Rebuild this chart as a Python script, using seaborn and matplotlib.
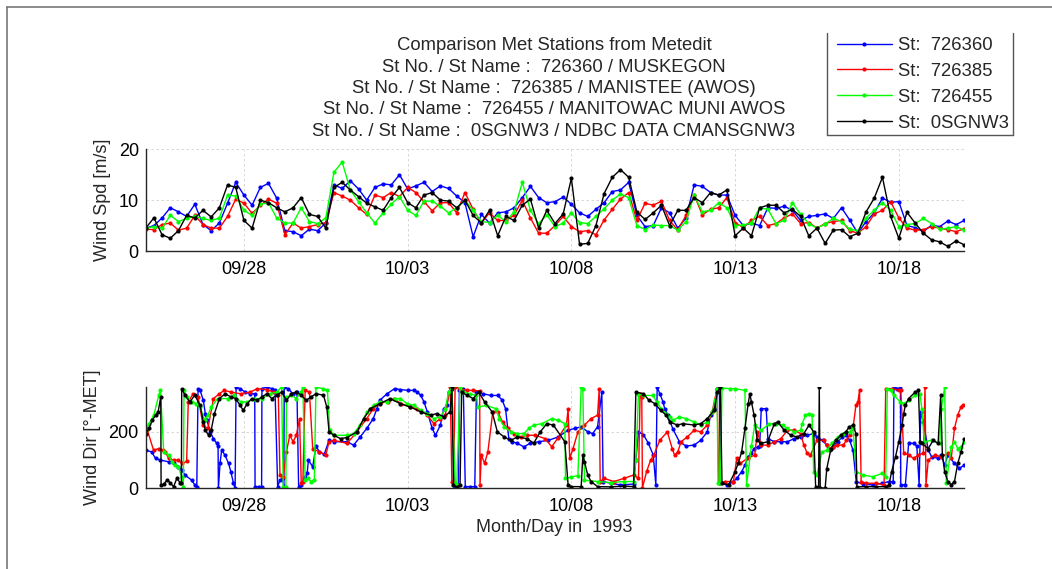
import numpy as np
import pandas as pd
import matplotlib
matplotlib.use("Agg")
import matplotlib.pyplot as plt
import matplotlib.dates as mdates
from matplotlib.lines import Line2D
import seaborn as sns

# ---------------- data ----------------
stations = ["726360", "726385", "726455", "0SGNW3"]
colors = ["#0000ff", "#ff0000", "#00ff00", "#000000"]
start = "1993-09-25 00:00"
tick_dates = ["1993-09-28", "1993-10-03", "1993-10-08", "1993-10-13", "1993-10-18"]

# wind speed [m/s], 6-hourly from 1993-09-25 00:00
spd_726360 = [4.5, 5, 6.5, 8.5, 7.7, 6.8, 9.2, 5.2, 4, 5.5, 9.4, 13.5, 11, 9, 12.5, 13.3, 10.4, 4, 3.8, 3, 4.3,
              4, 5.5, 13, 12.3, 13.8, 12.2, 10, 12.5, 13.2, 13, 15, 12.2, 12.8, 13.5, 11.7, 12.8, 12.3, 10.8, 9.5, 2.8,
              7.2, 5.5, 7.5, 7.7, 8.5, 10.5, 12.7, 10.5, 9.5, 9.7, 10.6, 9.2, 7.5, 6.8, 8.2, 9.5, 11.7, 12, 13.5, 7,
              4.8, 5, 8.5, 7.5, 4.5, 6.5, 13, 12.7, 11.5, 11, 11, 7, 5, 5.5, 5, 8.5, 8.4, 8.8, 8, 6,
              6.8, 7, 7.3, 6.4, 8.5, 6.1, 3.5, 5.8, 7.5, 10.4, 9.6, 9.7, 5, 4.6, 3.8, 5.1, 4.8, 5.9, 5.2, 6]
spd_726385 = [4.3, 4.2, 5.2, 5.5, 4.1, 4.5, 7, 5.2, 4.5, 4.5, 6.8, 10.2, 9.4, 7.4, 9, 10.2, 9.4, 3.2, 5.5, 4.5, 4.8,
              5.2, 5.6, 11.5, 10.8, 10, 8.5, 7.2, 11, 10.5, 11.5, 10.7, 12.5, 11.5, 9.7, 7.9, 9.5, 9.5, 7.5, 11.5, 8.2,
              5.5, 7.5, 6, 6, 7, 10, 6.5, 3.5, 3.5, 5, 6.8, 4.8, 3.8, 4, 3.2, 6.1, 8.2, 10.2, 11.5, 6,
              9.4, 9, 9.8, 6, 4.1, 7, 11, 7.1, 8.2, 8.5, 10.5, 5.6, 4.6, 6, 6.8, 5, 5.4, 6.5, 7.3, 5.4,
              5.6, 4.5, 5.4, 5.8, 6, 4, 3.5, 4.8, 7.3, 8, 9.7, 6.5, 4.5, 4.1, 4.2, 4.8, 4.5, 4.2, 3.8, 4.4]
spd_726455 = [4.5, 4.8, 4.5, 7, 5.8, 6.4, 6.8, 6.4, 6, 6.5, 11, 10.8, 8, 7, 9.2, 9.5, 6.5, 5.5, 5.5, 8.5, 5.8,
              5.4, 6.5, 15.5, 17.5, 12, 9.7, 7.5, 5.5, 7.5, 9.2, 10.7, 8, 7, 9.8, 9.8, 8.8, 7.5, 8.5, 10, 8,
              5.8, 5.6, 7, 5.8, 7.7, 13.5, 8, 5.4, 7.1, 4.8, 5.5, 7.5, 5.6, 5.4, 6.8, 8.3, 10, 11.2, 10.5, 5,
              4.2, 5.1, 5, 5, 4.1, 5.8, 11, 7.7, 8, 9.5, 8.5, 5, 5.1, 5.5, 8.5, 8.2, 5.4, 6, 9.5, 7.2,
              5.4, 4.5, 5.3, 6.4, 5.8, 4.3, 4, 6.5, 8, 9.5, 8, 4.8, 5.2, 5.4, 6.4, 5.4, 4.3, 4.5, 4.8, 4.1]
spd_0SGNW3 = [4.5, 6.5, 3.2, 2.5, 4, 7, 6.5, 8, 6.7, 8.5, 13, 12.5, 6, 4.5, 10, 9.5, 8.5, 7.7, 8.5, 10.5, 7.2,
              6.8, 4.5, 12.5, 13.5, 12, 10.7, 9.4, 8.7, 8, 10.5, 12.5, 9.5, 8.5, 11, 11.5, 10, 9.8, 8.5, 10, 7,
              5.5, 8, 3, 6.8, 6, 9, 10.2, 4.5, 8, 5.4, 7.3, 14.3, 1.3, 1.5, 5, 11.3, 14.5, 16, 14.5, 7.7,
              6.2, 7.5, 9, 5, 8, 8, 10.5, 9.5, 11.5, 11, 12, 3, 4.5, 3, 8.5, 9, 9, 7.5, 8.2, 6.8,
              3, 4.5, 1.5, 4.1, 4.2, 2.8, 3.5, 7.7, 10.4, 14.5, 6.8, 2.5, 7.6, 5.5, 3.5, 2.2, 1.8, 0.9, 2, 1.2]

# wind direction [deg], day offset from 1993-09-25 00:00
dir_726360_day = [0, 0.18, 0.3, 0.44, 0.7, 0.85, 1.0, 1.1, 1.2, 1.4, 1.5, 1.56, 1.6, 1.66, 1.76, 1.82, 1.87, 1.97,
                  2.07, 2.17, 2.21, 2.22, 2.27, 2.32, 2.42, 2.53, 2.6, 2.68, 2.73, 2.76, 2.88, 3.04, 3.2, 3.33, 3.34,
                  3.45, 3.54, 3.55, 3.7, 3.85, 3.95, 4.03, 4.1, 4.18, 4.22, 4.23, 4.35, 4.5, 4.62, 4.67, 4.75, 4.87,
                  4.93, 4.97, 5.1, 5.2, 5.3, 5.45, 5.6, 5.75, 6.15, 6.35, 6.55, 6.75, 6.95, 7.06, 7.15, 7.37, 7.6,
                  7.78, 8.0, 8.2, 8.3, 8.4, 8.5, 8.6, 8.75, 8.85, 9.0, 9.1, 9.2, 9.25, 9.35, 9.44, 9.55, 9.58, 9.7,
                  9.76, 9.9, 10.05, 10.1, 10.3, 10.55, 10.75, 10.89, 10.99, 11.09, 11.2, 11.35, 11.55, 11.75, 12.0,
                  12.3, 12.6, 12.9, 13.1, 13.3, 13.5, 13.65, 13.8, 13.93, 13.97, 14.2, 14.5, 14.9, 14.97, 15.05,
                  15.2, 15.35, 15.5, 15.58, 15.62, 15.7, 15.8, 15.85, 15.95, 16.1, 16.3, 16.5, 16.75, 16.95, 17.15,
                  17.25, 17.4, 17.45, 17.52, 17.55, 17.75, 17.95, 18.05, 18.2, 18.3, 18.4, 18.5, 18.58, 18.7, 18.75,
                  18.8, 18.95, 19.0, 19.2, 19.4, 19.6, 19.8, 20.0, 20.2, 20.4, 20.5, 20.67, 20.8, 20.9, 20.98,
                  21.13, 21.28, 21.4, 21.5, 21.6, 21.7, 21.9, 22.2, 22.5, 22.7, 22.83, 22.85, 22.95, 23.05, 23.06,
                  23.2, 23.3, 23.45, 23.55, 23.62, 23.67, 23.75, 23.9, 24.0, 24.2, 24.3, 24.4, 24.5, 24.7, 24.85,
                  25.0]
dir_726360_deg = [135, 129, 106, 100, 94, 88, 76, 65, 47, 29, 12, 6, 353, 347, 312, 265, 241, 200,
                  176, 159, 150, 0, 88, 135, 118, 88, 59, 18, 0, 359, 353, 341, 335, 335, 6,
                  6, 6, 353, 359, 353, 347, 6, 29, 35, 6, 359, 353, 335, 341, 6, 12, 41,
                  53, 100, 76, 150, 130, 120, 170, 165, 165, 153, 182, 212, 247, 282, 312, 335, 353,
                  350, 347, 347, 341, 329, 306, 271, 212, 188, 224, 282, 294, 341, 353, 6, 10, 347, 353,
                  6, 6, 6, 341, 335, 329, 329, 312, 282, 176, 165, 159, 147, 160, 165,
                  170, 182, 206, 212, 218, 200, 194, 218, 340, 24, 18, 12, 15, 100, 200,
                  190, 160, 118, 12, 359, 335, 306, 282, 259, 210, 165, 150, 153, 170, 200,
                  259, 282, 353, 355, 18, 12, 24, 35, 59, 82, 112, 124, 141, 147, 150,
                  282, 282, 176, 165, 165, 165, 176, 182, 188, 194, 182, 170, 153, 135, 147,
                  165, 182, 188, 170, 135, 24, 15, 12, 18, 24, 24, 359, 353, 355, 12,
                  12, 160, 159, 150, 12, 271, 235, 135, 112, 106, 118, 82, 118, 88, 71,
                  82]

dir_726385_day = [0, 0.05, 0.24, 0.4, 0.54, 0.6, 0.7, 0.85, 1.0, 1.1, 1.25, 1.3, 1.45, 1.6, 1.75, 1.9, 2.07, 2.25,
                  2.4, 2.6, 2.9, 3.2, 3.4, 3.7, 3.9, 4.05, 4.1, 4.2, 4.3, 4.4, 4.5, 4.6, 4.7, 4.75, 4.8, 4.87,
                  5.0, 5.1, 5.3, 5.5, 5.6, 5.75, 6.15, 6.45, 6.75, 6.95, 7.2, 7.4, 7.57, 7.8, 8.08, 8.3, 8.6,
                  8.8, 9.0, 9.15, 9.3, 9.35, 9.4, 9.45, 9.6, 9.8, 10.0, 10.2, 10.21, 10.25, 10.35, 10.45, 10.6,
                  10.75, 10.9, 11.05, 11.25, 11.45, 11.65, 11.9, 12.2, 12.4, 12.6, 12.85, 12.9, 12.95, 13.05,
                  13.2, 13.4, 13.6, 13.8, 13.85, 13.88, 14.0, 14.3, 14.6, 14.9, 15.05, 15.1, 15.15, 15.17, 15.3,
                  15.42, 15.52, 15.7, 15.93, 16.08, 16.15, 16.25, 16.35, 16.54, 16.75, 16.95, 17.15, 17.3, 17.45,
                  17.5, 17.7, 17.95, 18.05, 18.15, 18.38, 18.6, 18.68, 18.8, 19.0, 19.2, 19.4, 19.6, 19.8, 20.0,
                  20.1, 20.2, 20.3, 20.5, 20.7, 20.8, 20.9, 21.0, 21.1, 21.3, 21.4, 21.5, 21.6, 21.69, 21.75,
                  21.8, 21.85, 22.0, 22.3, 22.55, 22.6, 22.8, 23.0, 23.06, 23.15, 23.3, 23.45, 23.6, 23.75, 23.8,
                  23.83, 23.9, 24.1, 24.3, 24.5, 24.6, 24.7, 24.8, 24.9, 24.95]
dir_726385_deg = [212, 206, 135, 141, 135, 129, 106, 100, 100, 88, 95, 306, 335, 324, 224, 212, 318, 335,
                  347, 341, 335, 341, 353, 350, 341, 329, 47, 40, 130, 188, 165, 188, 247, 18, 24, 347,
                  341, 141, 129, 118, 165, 170, 159, 200, 247, 282, 306, 306, 318, 300, 288, 282, 259,
                  229, 247, 259, 359, 24, 24, 359, 353, 347, 347, 345, 12, 118, 88, 129, 271,
                  271, 235, 212, 194, 182, 188, 188, 176, 147, 180, 224, 282, 106, 140,
                  200, 224, 247, 259, 353, 24, 35, 24, 35, 47, 35, 335, 324, 2, 60,
                  100, 118, 170, 200, 141, 118, 129, 165, 182, 206, 200, 224, 271, 353,
                  18, 24, 24, 106, 88, 106, 118, 200, 153, 153, 165, 176, 206, 206, 194,
                  153, 124, 118, 170, 170, 153, 141, 147, 153, 153, 170, 188, 212, 294, 306,
                  347, 24, 18, 18, 12, 353, 353, 347, 347, 124, 118, 106, 118, 124, 359,
                  12, 100, 118, 112, 124, 106, 212, 260, 288, 294]

dir_726455_day = [0, 0.1, 0.25, 0.4, 0.45, 0.55, 0.7, 0.8, 0.9, 1.0, 1.1, 1.15, 1.17, 1.25, 1.4, 1.55, 1.66, 1.8,
                  1.9, 2.0, 2.2, 2.5, 2.7, 2.9, 3.1, 3.3, 3.55, 3.8, 4.0, 4.15, 4.2, 4.28, 4.3, 4.45, 4.6, 4.75,
                  4.8, 4.87, 4.95, 5.05, 5.15, 5.2, 5.4, 5.55, 5.62, 5.75, 6.15, 6.35, 6.55, 6.76, 6.96, 7.15,
                  7.37, 7.6, 7.78, 7.98, 8.2, 8.4, 8.6, 8.8, 9.0, 9.15, 9.25, 9.35, 9.45, 9.5, 9.6, 9.7, 9.9,
                  10.1, 10.15, 10.4, 10.7, 10.8, 10.95, 11.15, 11.35, 11.55, 11.7, 11.85, 12.1, 12.4, 12.6, 12.8,
                  12.82, 13.0, 13.2, 13.3, 13.35, 13.4, 13.8, 14.2, 14.6, 14.9, 14.97, 15.05, 15.2, 15.5, 15.6,
                  15.75, 15.9, 16.0, 16.1, 16.3, 16.5, 16.75, 16.95, 17.15, 17.3, 17.4, 17.45, 17.48, 17.55,
                  17.6, 17.85, 18.0, 18.3, 18.35, 18.5, 18.6, 18.8, 19.05, 19.25, 19.45, 19.6, 19.8, 20.0, 20.05,
                  20.15, 20.25, 20.35, 20.4, 20.5, 20.65, 20.8, 20.95, 21.15, 21.3, 21.5, 21.6, 21.7, 21.9, 22.2,
                  22.5, 22.6, 22.65, 22.75, 22.85, 23.05, 23.15, 23.3, 23.5, 23.65, 23.7, 23.78, 24.0, 24.25,
                  24.3, 24.4, 24.45, 24.6, 24.7, 24.8, 24.9, 25.0]
dir_726455_deg = [206, 229, 260, 330, 349, 130, 118, 94, 82, 76, 40, 5, 347, 324, 306, 300, 288, 241,
                  259, 288, 318, 318, 330, 306, 306, 318, 318, 335, 341, 359, 5, 5, 324, 330, 318, 341,
                  359, 29, 35, 24, 30, 359, 353, 347, 206, 188, 188, 194, 224, 271, 294, 306,
                  306, 318, 318, 300, 294, 276, 265, 247, 253, 282, 341, 359, 20, 12, 359, 341, 335,
                  329, 288, 294, 282, 247, 218, 200, 194, 194, 212, 224, 229, 247, 241, 229,
                  35, 40, 45, 359, 353, 29, 24, 20, 24, 24, 100, 335, 329, 329, 306,
                  282, 265, 253, 241, 253, 247, 235, 224, 235, 271, 312, 353, 18, 18,
                  355, 353, 353, 347, 12, 150, 224, 206, 229, 229, 224, 212, 200, 206, 229,
                  259, 265, 259, 59, 47, 129, 135, 159, 182, 194, 200, 212, 59, 47, 41,
                  53, 41, 353, 347, 329, 306, 300, 312, 329, 335, 282, 165, 170, 159,
                  282, 359, 18, 147, 165, 141, 147, 165]

dir_0SGNW3_day = [0, 0.1, 0.2, 0.3, 0.38, 0.46, 0.47, 0.55, 0.65, 0.75, 0.85, 0.95, 1.05, 1.09, 1.1, 1.2, 1.35,
                  1.5, 1.66, 1.76, 1.82, 1.92, 2.0, 2.1, 2.25, 2.43, 2.6, 2.75, 2.88, 2.98, 3.1, 3.24, 3.4, 3.55,
                  3.7, 3.85, 4.0, 4.15, 4.3, 4.45, 4.6, 4.75, 4.9, 5.05, 5.2, 5.43, 5.53, 5.6, 5.74, 5.95, 6.15,
                  6.45, 6.66, 6.86, 7.15, 7.47, 7.77, 8.08, 8.4, 8.7, 8.9, 9.1, 9.3, 9.35, 9.4, 9.5, 9.6, 9.65,
                  9.8, 10.0, 10.17, 10.35, 10.58, 10.74, 10.95, 11.15, 11.35, 11.65, 11.85, 12.05, 12.25, 12.45,
                  12.8, 12.9, 13.0, 13.3, 13.35, 13.4, 13.5, 13.6, 13.8, 14.2, 14.6, 14.9, 14.97, 15.2, 15.37,
                  15.55, 15.73, 15.9, 16.0, 16.24, 16.4, 16.75, 16.95, 17.15, 17.36, 17.46, 17.55, 17.6, 17.8,
                  18.0, 18.1, 18.2, 18.3, 18.4, 18.45, 18.5, 18.58, 18.68, 18.78, 18.99, 19.2, 19.3, 19.5, 19.7,
                  19.9, 20.1, 20.26, 20.4, 20.46, 20.55, 20.57, 20.6, 20.75, 20.8, 20.93, 21.08, 21.23, 21.38,
                  21.49, 21.6, 21.69, 21.72, 22.0, 22.3, 22.6, 22.7, 22.78, 22.9, 23.0, 23.1, 23.15, 23.2, 23.3,
                  23.5, 23.6, 23.65, 23.7, 23.9, 24.05, 24.2, 24.28, 24.33, 24.4, 24.5, 24.6, 24.7, 24.8, 24.9,
                  25.0]
dir_0SGNW3_deg = [194, 212, 241, 259, 271, 324, 10, 15, 29, 20, 5, 35, 20, 20, 353, 330, 306,
                  330, 294, 235, 206, 188, 206, 265, 318, 335, 324, 318, 294, 276, 300, 318, 312, 324,
                  335, 318, 330, 341, 312, 335, 341, 330, 312, 324, 335, 330, 288, 200, 188, 176, 180,
                  200, 247, 282, 300, 318, 300, 288, 271, 259, 265, 253, 271, 360, 10, 5, 12, 341,
                  330, 318, 341, 306, 271, 200, 182, 170, 182, 176, 160, 200, 229, 224,
                  165, 12, 6, 6, 118, 94, 47, 24, 6, 5, 8, 6, 341, 335, 312,
                  300, 276, 259, 235, 224, 229, 224, 229, 247, 276, 341, 359, 18, 12,
                  59, 90, 129, 212, 300, 335, 306, 259, 170, 159, 165, 229, 235, 206, 188,
                  182, 194, 224, 200, 5, 0, 358, 2, 0, 70, 141, 170, 188, 200,
                  218, 224, 194, 5, 6, 6, 6, 12, 59, 112, 165, 224, 265, 294, 318,
                  341, 347, 165, 159, 141, 170, 159, 329, 118, 59, 24, 12, 24, 88, 129,
                  176]

# ---------------- build long tables ----------------
t0 = pd.Timestamp(start)
spd_time = pd.date_range(start, periods=len(spd_726360), freq="6h")
spd_df = pd.concat([
    pd.DataFrame({"time": spd_time, "value": v, "station": s})
    for s, v in zip(stations, [spd_726360, spd_726385, spd_726455, spd_0SGNW3])
], ignore_index=True)

dir_series = [(dir_726360_day, dir_726360_deg), (dir_726385_day, dir_726385_deg),
              (dir_726455_day, dir_726455_deg), (dir_0SGNW3_day, dir_0SGNW3_deg)]
dir_df = pd.concat([
    pd.DataFrame({"time": t0 + pd.to_timedelta(np.asarray(d, float), unit="D"), "value": v, "station": s})
    for s, (d, v) in zip(stations, dir_series)
], ignore_index=True)

# ---------------- figure ----------------
sns.set_style("white")
plt.rcParams["font.family"] = ["Liberation Sans", "DejaVu Sans"]

W, H = 1052, 569
fig = plt.figure(figsize=(W / 100, H / 100), dpi=100)

def px_axes(left, top, right, bottom):
    return fig.add_axes([left / W, 1 - bottom / H, (right - left) / W, (bottom - top) / H])

ax1 = px_axes(145.7, 149.3, 964.3, 251.0)
ax2 = px_axes(145.7, 386.7, 964.3, 488.3)

xlim = (pd.Timestamp("1993-09-25 00:00"), pd.Timestamp("1993-10-20 00:00"))
ticks = [pd.Timestamp(d) for d in tick_dates]

for ax, df, ylim, yticks in [(ax1, spd_df, (0, 20), [0, 10, 20]), (ax2, dir_df, (0, 360), [0, 200])]:
    sns.lineplot(data=df, x="time", y="value", hue="station", hue_order=stations, palette=colors,
                 estimator=None, sort=False, marker="o", markersize=3.0, markeredgewidth=0,
                 linewidth=1.0, legend=False, ax=ax)
    ax.set_xlim(*xlim)
    ax.set_ylim(*ylim)
    ax.set_xticks(ticks)
    ax.xaxis.set_major_formatter(mdates.DateFormatter("%m/%d"))
    ax.set_yticks(yticks)
    ax.grid(True, color="#d0d0d0", linestyle=(0, (3, 3)), linewidth=0.6)
    ax.set_axisbelow(True)
    for side in ["top", "right"]:
        ax.spines[side].set_visible(False)
    for side in ["left", "bottom"]:
        ax.spines[side].set_color("#262626")
        ax.spines[side].set_linewidth(1.0)
    ax.tick_params(axis="both", direction="in", length=4, width=0.6, color="#262626",
                   labelsize=13, labelcolor="#000000")
    ax.tick_params(axis="x", pad=7)
    ax.tick_params(axis="y", pad=5)
    ax.set_xlabel("")

ax1.set_ylabel("Wind Spd [m/s]", fontsize=13, va="center", ha="center")
ax1.yaxis.set_label_coords((102.5 - 145.7) / 818.6, 0.5)
ax2.set_ylabel("Wind Dir [°-MET]", fontsize=13, va="center", ha="center")
ax2.yaxis.set_label_coords((92.5 - 145.7) / 818.6, 0.5)
ax2.set_xlabel("Month/Day in  1993", fontsize=13)
ax2.xaxis.set_label_coords((554 - 145.7) / 818.6, -(527 - 488.3) / 101.6)
ax2.xaxis.label.set_va("center")

# title block
title_lines = ["Comparison Met Stations from Metedit",
               "St No. / St Name :  726360 / MUSKEGON",
               "St No. / St Name :  726385 / MANISTEE (AWOS)",
               "St No. / St Name :  726455 / MANITOWAC MUNI AWOS",
               "St No. / St Name :  0SGNW3 / NDBC DATA CMANSGNW3"]
for i, line in enumerate(title_lines):
    fig.text(554 / W, 1 - (46 + 21.25 * i) / H, line, ha="center", va="center", fontsize=13.3)

# legend
handles = [Line2D([0], [0], color=c, lw=1.0, marker="o", markersize=3, markeredgewidth=0) for c in colors]
fig.legend(handles, ["St:  " + s for s in stations], loc="upper left",
           bbox_to_anchor=(836.7 / W, 1 - 37 / H), frameon=False, fontsize=13.3,
           handlelength=3.0, handletextpad=0.3, labelspacing=0.48, borderpad=0.0, borderaxespad=0.0)
for (x0, y0, x1, y1) in [(827, 33, 827, 135), (1013, 33, 1013, 135), (827, 135, 1013, 135)]:
    fig.add_artist(Line2D([x0 / W, x1 / W], [1 - y0 / H, 1 - y1 / H], color="#555555", lw=1.0,
                          transform=fig.transFigure))

# outer frame (top and left edges of the captured window)
fig.add_artist(Line2D([7 / W, 1.0], [1 - 7 / H, 1 - 7 / H], color="#777777", lw=1.2, transform=fig.transFigure))
fig.add_artist(Line2D([7 / W, 7 / W], [0.0, 1 - 7 / H], color="#777777", lw=1.2, transform=fig.transFigure))

fig.savefig("out.png", dpi=100)
